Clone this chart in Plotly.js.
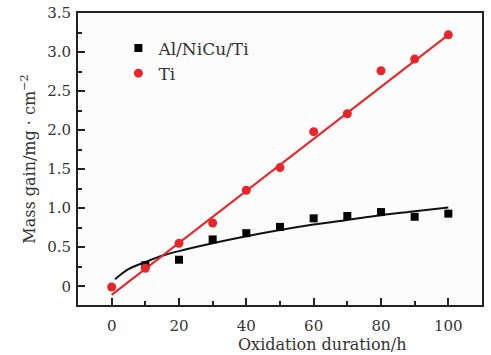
<!DOCTYPE html>
<html><head><meta charset="utf-8">
<script src="https://cdn.plot.ly/plotly-3.0.1.min.js"></script>
<style>html,body{margin:0;padding:0;background:#fff}#c{width:491px;height:355px}</style>
</head><body><div id="c"></div>
<script>
var hours = [0, 10, 20, 30, 40, 50, 60, 70, 80, 90, 100];
var alNiCuTi = [null, 0.27, 0.34, 0.60, 0.68, 0.76, 0.87, 0.90, 0.95, 0.89, 0.93];
var ti = [-0.01, 0.23, 0.55, 0.81, 1.23, 1.52, 1.98, 2.21, 2.76, 2.91, 3.22];
var alFitX = [1, 3, 5, 10, 15, 20, 30, 40, 50, 60, 70, 80, 90, 100];
var alFitY = [0.09, 0.16, 0.22, 0.31, 0.39, 0.45, 0.55, 0.64, 0.72, 0.79, 0.85, 0.91, 0.96, 1.01];
var tiFitX = [0, 100];
var tiFitY = [-0.11, 3.22];
var xTicks = [0, 20, 40, 60, 80, 100];
var xTickText = ['0', '20', '40', '60', '80', '100'];
var yTicks = [0, 0.5, 1.0, 1.5, 2.0, 2.5, 3.0, 3.5];
var yTickText = ['0', '0.5', '1.0', '1.5', '2.0', '2.5', '3.0', '3.5'];
var xTitle = 'Oxidation duration/h';
var yTitle = 'Mass gain/mg · cm<sup>−2</sup>';

var fam = 'DejaVu Serif, serif';
var tickFont = {family: fam, size: 15, color: '#333'};
var titleFont = {family: fam, size: 16, color: '#333'};
var legendFont = {family: fam, size: 17, color: '#333'};
var red = '#e8262a';
var data = [
  {x: alFitX, y: alFitY, mode: 'lines', line: {color: '#111', width: 2, shape: 'spline'}, showlegend: false, hoverinfo: 'skip'},
  {x: tiFitX, y: tiFitY, mode: 'lines', line: {color: red, width: 2}, showlegend: false, hoverinfo: 'skip'},
  {x: hours, y: alNiCuTi, mode: 'markers', name: 'Al/NiCu/Ti', marker: {symbol: 'square', size: 8, color: '#000'}},
  {x: hours, y: ti, mode: 'markers', name: 'Ti', marker: {symbol: 'circle', size: 9, color: red}}
];
var axisCommon = {
  showgrid: false, zeroline: false, showline: true, linecolor: '#222', linewidth: 2, mirror: true,
  ticks: 'inside', ticklen: 7, tickwidth: 2, tickcolor: '#222', tickfont: tickFont
};
var layout = {
  width: 491, height: 355,
  margin: {l: 78, r: 9, t: 13, b: 50},
  paper_bgcolor: '#fff', plot_bgcolor: '#fcfcfc',
  font: titleFont,
  xaxis: Object.assign({}, axisCommon, {
    range: [-10, 110], tickmode: 'array', tickvals: xTicks, ticktext: xTickText,
    ticklabelstandoff: 6,
    minor: {dtick: 10, tick0: 0, ticks: 'inside', ticklen: 4, tickwidth: 2, tickcolor: '#222'}
  }),
  yaxis: Object.assign({}, axisCommon, {
    range: [-0.24, 3.5], tickmode: 'array', tickvals: yTicks, ticktext: yTickText,
    ticklabelstandoff: 2,
    minor: {dtick: 0.25, tick0: 0, ticks: 'inside', ticklen: 4, tickwidth: 2, tickcolor: '#222'},
    title: {text: yTitle, font: titleFont, standoff: 8}
  }),
  annotations: [{
    text: xTitle, xref: 'paper', yref: 'paper', x: 0.605, y: 0, xanchor: 'center', yanchor: 'top',
    yshift: -28, showarrow: false, font: titleFont
  }],
  legend: {x: 0.1, y: 0.94, xanchor: 'left', yanchor: 'top', bgcolor: 'rgba(0,0,0,0)', font: legendFont, itemwidth: 30, tracegroupgap: 0}
};
Plotly.newPlot('c', data, layout, {staticPlot: true});
</script></body></html>
